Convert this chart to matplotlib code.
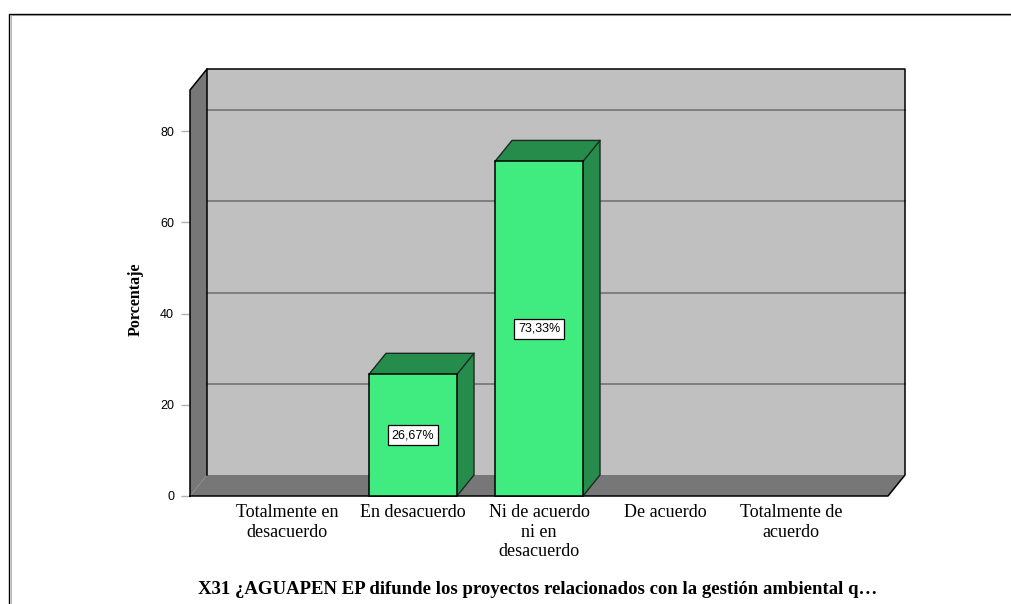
import matplotlib
matplotlib.use("Agg")
from matplotlib import pyplot as plt
from matplotlib.patches import Polygon, Rectangle

categorias = ["Totalmente en\ndesacuerdo", "En desacuerdo", "Ni de acuerdo\nni en\ndesacuerdo",
              "De acuerdo", "Totalmente de\nacuerdo"]
porcentajes = [0, 26.67, 73.33, 0, 0]
etiquetas = ["", "26,67%", "73,33%", "", ""]
ticks_y = [0, 20, 40, 60, 80]
titulo = "X31 ¿AGUAPEN EP difunde los proyectos relacionados con la gestión ambiental q…"

SERIF = "Liberation Serif"
SANS = "Liberation Sans"
GRIS_PARED = "#c0c0c0"
GRIS_OSCURO = "#777777"
VERDE = "#40ec80"
VERDE_OSC = "#268c4c"
BORDE_OSC = "#1c2a20"

fig = plt.figure(figsize=(10.12, 6.04), dpi=100)
ax = fig.add_axes([190 / 1012, 1 - 496 / 604, 698 / 1012, 406 / 604])

# escalas en pixeles del original
x_min, x_max = (190 - 287) / 126, (888 - 287) / 126
y_max = 406 / 4.5625
ax.set_xlim(x_min, x_max)
ax.set_ylim(0, y_max)

# profundidad del efecto 3d en unidades de datos
dx = 17 / 126
dy = 21 / 4.5625
ancho = 88 / 126


def relleno(puntos, color, z=1):
    ax.add_patch(Polygon(puntos, closed=True, facecolor=color, edgecolor="none", clip_on=False, zorder=z))


def linea(puntos, color="black", lw=1.1, z=1.6):
    xs, ys = zip(*puntos)
    ax.plot(xs, ys, color=color, lw=lw, clip_on=False, zorder=z, solid_capstyle="projecting")


# paredes
relleno([(x_min + dx, dy), (x_max + dx, dy), (x_max + dx, y_max + dy), (x_min + dx, y_max + dy)], GRIS_PARED)
relleno([(x_min, 0), (x_min + dx, dy), (x_min + dx, y_max + dy), (x_min, y_max)], GRIS_OSCURO)
relleno([(x_min, 0), (x_max, 0), (x_max + dx, dy), (x_min + dx, dy)], GRIS_OSCURO)

for t in ticks_y[1:]:
    linea([(x_min + dx, t + dy), (x_max + dx, t + dy)], "#747474", 1.2, 1.2)

linea([(x_min, 0), (x_min, y_max), (x_min + dx, y_max + dy), (x_max + dx, y_max + dy),
       (x_max + dx, dy), (x_max, 0), (x_min, 0)])
linea([(x_min + dx, dy), (x_min + dx, y_max + dy)])

# barras
for i, v in enumerate(porcentajes):
    if v <= 0:
        continue
    izq, der = i - ancho / 2, i + ancho / 2
    relleno([(der, 0), (der + dx, dy), (der + dx, v + dy), (der, v)], VERDE_OSC, 2)
    relleno([(izq, v), (der, v), (der + dx, v + dy), (izq + dx, v + dy)], VERDE_OSC, 2)
    linea([(der, 0), (der + dx, dy), (der + dx, v + dy), (izq + dx, v + dy), (izq, v)], BORDE_OSC, 1.0, 2.1)
    linea([(der, v), (der + dx, v + dy)], BORDE_OSC, 1.0, 2.1)
    ax.add_patch(Rectangle((izq, 0), ancho, v, facecolor=VERDE, edgecolor="black", linewidth=1.1,
                           clip_on=False, zorder=3))
    ax.text(i, v / 2, etiquetas[i], ha="center", va="center", fontsize=9, family=SANS, zorder=4,
            bbox=dict(boxstyle="square,pad=0.33", facecolor="white", edgecolor="black", linewidth=0.9))

for s in ax.spines.values():
    s.set_visible(False)
ax.patch.set_visible(False)

ax.set_yticks(ticks_y)
ax.tick_params(axis="y", length=6.5, width=1, color="#b0b0b0", labelsize=9, pad=5)
for lab in ax.get_yticklabels():
    lab.set_family(SANS)

ax.set_xticks(range(len(categorias)))
ax.set_xticklabels(categorias, family=SERIF, fontsize=13, linespacing=1.18)
ax.tick_params(axis="x", length=0, pad=6)

fig.text(136 / 1012, 1 - 299 / 604, "Porcentaje", rotation=90, ha="center", va="center",
         family=SERIF, fontsize=11.5, fontweight="bold")
fig.text(537.5 / 1012, 1 - 590 / 604, titulo, ha="center", va="center", family=SERIF,
         fontsize=13.5, fontweight="bold")

# marco exterior, sin lado derecho
fig.add_artist(plt.Line2D([10.5 / 1012, 10.5 / 1012, 1], [0, 1 - 14.5 / 604, 1 - 14.5 / 604],
                          color="#b8b8b8", lw=0.8))
fig.add_artist(plt.Line2D([9.5 / 1012, 9.5 / 1012, 1], [0, 1 - 13.5 / 604, 1 - 13.5 / 604],
                          color="black", lw=1.0))

fig.savefig("out.png", dpi=100)
